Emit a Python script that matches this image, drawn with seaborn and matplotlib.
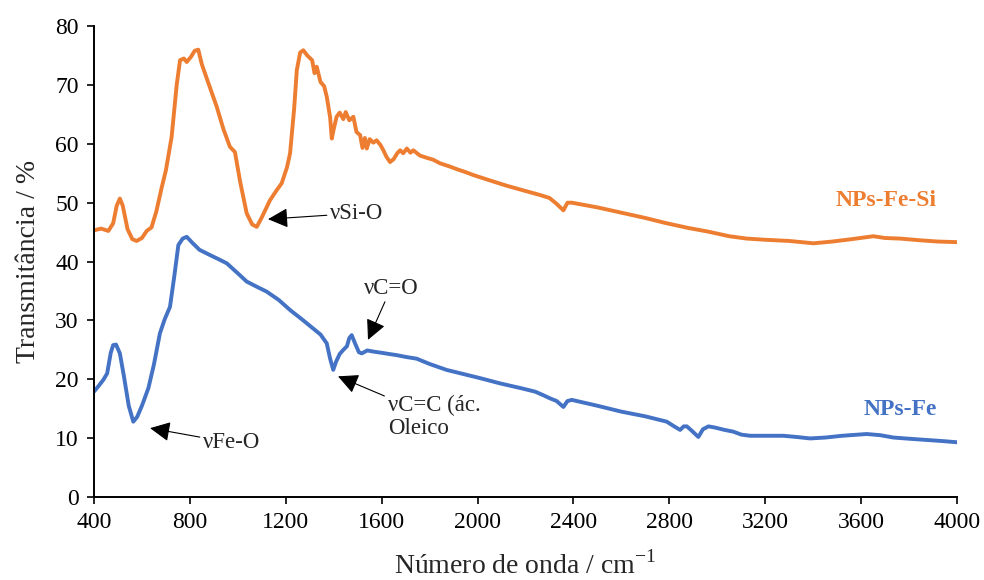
"""
FTIR spectra of NPs-Fe and NPs-Fe-Si (transmittance vs wavenumber).
"""

import matplotlib
matplotlib.use("Agg")
import matplotlib.pyplot as plt
import pandas as pd
import seaborn as sns

# NPs-Fe-Si (orange)
fesi_wavenumber = [
    400, 430, 460, 480, 495, 508, 520, 540, 560, 578, 600, 620, 640, 660, 682, 700,
    724, 745, 759, 775, 787, 805, 820, 835, 850, 880, 912, 940, 967, 988, 1010, 1037,
    1060, 1079, 1100, 1134, 1160, 1183, 1205, 1218, 1235, 1246, 1260, 1273, 1290, 1310,
    1320, 1329, 1345, 1360, 1371, 1385, 1392, 1400, 1412, 1425, 1440, 1450, 1465, 1482,
    1495, 1510, 1520, 1530, 1538, 1550, 1565, 1579, 1595, 1607, 1620, 1635, 1650, 1665,
    1677, 1690, 1705, 1720, 1732, 1760, 1790, 1815, 1843, 1880, 1920, 1950, 1982, 2050,
    2120, 2190, 2261, 2300, 2330, 2358, 2375, 2393, 2500, 2600, 2700, 2789, 2880, 2960,
    3050, 3123, 3200, 3300, 3401, 3480, 3560, 3651, 3700, 3763, 3850, 3920, 4000,
]
fesi_transmittance = [
    45.3, 45.6, 45.2, 46.5, 49.5, 50.7, 49.5, 45.5, 43.8, 43.5, 44.0, 45.2, 45.8, 48.5, 52.5, 55.5,
    61.2, 70.0, 74.2, 74.5, 73.9, 74.8, 75.8, 76.0, 73.5, 70.0, 66.3, 62.5, 59.5, 58.6, 53.5, 48.2,
    46.3, 45.9, 47.5, 50.4, 52.0, 53.3, 56.0, 58.4, 66.0, 72.5, 75.5, 75.9, 75.0, 74.2,
    72.0, 73.1, 70.5, 69.8, 68.0, 64.5, 60.9, 62.5, 64.6, 65.3, 64.2, 65.4, 64.0, 64.6,
    62.0, 61.5, 59.3, 61.0, 59.2, 60.8, 60.2, 60.6, 59.8, 58.9, 57.8, 56.9, 57.4, 58.4,
    58.9, 58.4, 59.2, 58.5, 58.9, 58.0, 57.6, 57.3, 56.7, 56.2, 55.6, 55.2, 54.7, 53.8,
    52.9, 52.1, 51.3, 50.8, 49.8, 48.7, 50.0, 50.0, 49.2, 48.3, 47.4, 46.5, 45.7, 45.1,
    44.3, 43.9, 43.7, 43.5, 43.1, 43.4, 43.8, 44.3, 44.0, 43.9, 43.6, 43.4, 43.3,
]

# NPs-Fe (blue)
fe_wavenumber = [
    400, 420, 439, 455, 470, 480, 492, 508, 525, 545, 564, 580, 600, 627, 650, 675,
    695, 717, 735, 752, 770, 787, 810, 840, 884, 920, 954, 1000, 1037, 1080, 1120, 1170,
    1220, 1270, 1315, 1345, 1371, 1385, 1398, 1410, 1425, 1440, 1455, 1465, 1475, 1490,
    1505, 1517, 1540, 1566, 1600, 1630, 1663, 1700, 1746, 1800, 1870, 1940, 2010, 2094,
    2180, 2240, 2274, 2300, 2330, 2358, 2375, 2393, 2500, 2600, 2700, 2789, 2820, 2845,
    2860, 2873, 2895, 2921, 2940, 2963, 2990, 3030, 3067, 3100, 3137, 3200, 3276, 3330,
    3387, 3450, 3520, 3623, 3680, 3735, 3800, 3870, 3940, 4000,
]
fe_transmittance = [
    17.9, 18.9, 19.9, 21.0, 24.5, 25.8, 25.9, 24.4, 20.5, 15.5, 12.8, 13.6, 15.5, 18.5, 22.5, 27.8,
    30.2, 32.3, 37.5, 42.8, 43.9, 44.2, 43.2, 42.0, 41.1, 40.4, 39.7, 38.0, 36.6, 35.7, 34.9, 33.5,
    31.7, 30.1, 28.6, 27.6, 26.1, 23.5, 21.6, 23.0, 24.3, 25.0, 25.6, 27.0, 27.5, 26.0,
    24.6, 24.4, 24.9, 24.7, 24.5, 24.3, 24.1, 23.8, 23.5, 22.6, 21.6, 20.9, 20.2, 19.3,
    18.5, 17.9, 17.3, 16.8, 16.3, 15.3, 16.3, 16.5, 15.5, 14.5, 13.7, 12.8, 12.0, 11.4,
    12.0, 12.0, 11.2, 10.2, 11.5, 12.0, 11.8, 11.4, 11.1, 10.6, 10.4, 10.4, 10.4, 10.2,
    9.95, 10.1, 10.4, 10.7, 10.5, 10.1, 9.9, 9.7, 9.5, 9.3,
]

ORANGE = "#ED7D31"
BLUE = "#4472C4"

sns.set_style("ticks")
plt.rcParams["font.family"] = ["Liberation Serif", "DejaVu Serif"]
plt.rcParams["mathtext.fontset"] = "custom"
plt.rcParams["mathtext.rm"] = "Liberation Serif"

df_fesi = pd.DataFrame({"wavenumber": fesi_wavenumber, "T": fesi_transmittance})
df_fe = pd.DataFrame({"wavenumber": fe_wavenumber, "T": fe_transmittance})

fig = plt.figure(figsize=(9.84, 5.80), dpi=100)
ax = fig.add_axes([0.0955, 0.1431, 0.8771, 0.8119])

sns.lineplot(data=df_fesi, x="wavenumber", y="T", color=ORANGE, linewidth=2.8, ax=ax)
sns.lineplot(data=df_fe, x="wavenumber", y="T", color=BLUE, linewidth=2.8, ax=ax)

ax.set_xlim(400, 4000)
ax.set_ylim(0, 80)
ax.set_xticks(range(400, 4001, 400))
ax.set_yticks(range(0, 81, 10))
ax.tick_params(axis="both", labelsize=17, direction="out", length=5, width=1.2,
               colors="black", pad=6)
for side in ("left", "bottom"):
    ax.spines[side].set_linewidth(1.4)
    ax.spines[side].set_color("black")
sns.despine(ax=ax)

ax.set_xlabel(r"Número de onda / cm$^{\mathregular{-1}}$", fontsize=20, labelpad=13)
ax.set_ylabel("Transmitância / %", fontsize=20, labelpad=10)

arrow = dict(arrowstyle="-|>,head_length=0.75,head_width=0.37", color="black",
             lw=0.8, shrinkA=0, shrinkB=0)
ax.annotate("νSi-O", xy=(1126, 47.2), xytext=(1385, 48.2), fontsize=16.5,
            va="center", ha="left", arrowprops=arrow)
ax.annotate("νC=O", xy=(1543, 26.7), xytext=(1525, 35.5), fontsize=16.5,
            va="center", ha="left", arrowprops=arrow)
ax.annotate("νC=C (ác.\nOleico", xy=(1418, 20.5), xytext=(1625, 13.6), fontsize=16.5,
            va="center", ha="left", linespacing=1.15, arrowprops=arrow)
ax.annotate("νFe-O", xy=(634, 11.7), xytext=(855, 9.2), fontsize=16.5,
            va="center", ha="left", arrowprops=arrow)

ax.text(3704, 50.4, "NPs-Fe-Si", color=ORANGE, fontsize=17, fontweight="bold",
        ha="center", va="center")
ax.text(3763, 14.8, "NPs-Fe", color=BLUE, fontsize=17, fontweight="bold",
        ha="center", va="center")

fig.savefig("out.png", dpi=100)
plt.close(fig)
